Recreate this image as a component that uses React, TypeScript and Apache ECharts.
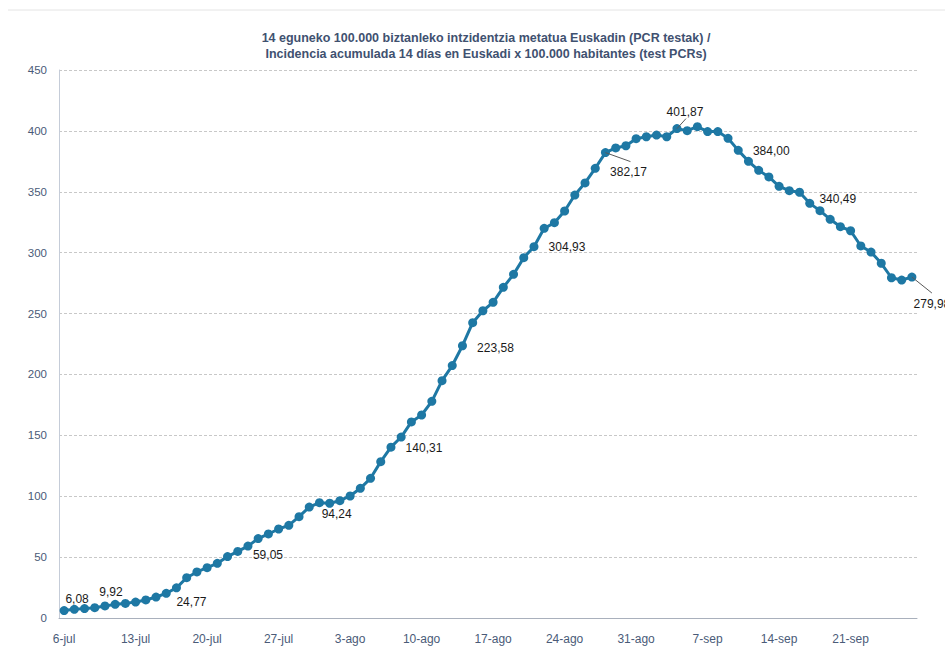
import React, { useEffect, useRef } from "react";
import * as echarts from "echarts";

const categories: string[] = [
  "6-jul", "7-jul", "8-jul", "9-jul", "10-jul", "11-jul", "12-jul", "13-jul", "14-jul", "15-jul",
  "16-jul", "17-jul", "18-jul", "19-jul", "20-jul", "21-jul", "22-jul", "23-jul", "24-jul", "25-jul",
  "26-jul", "27-jul", "28-jul", "29-jul", "30-jul", "31-jul",
  "1-ago", "2-ago", "3-ago", "4-ago", "5-ago", "6-ago", "7-ago", "8-ago", "9-ago", "10-ago",
  "11-ago", "12-ago", "13-ago", "14-ago", "15-ago", "16-ago", "17-ago", "18-ago", "19-ago", "20-ago",
  "21-ago", "22-ago", "23-ago", "24-ago", "25-ago", "26-ago", "27-ago", "28-ago", "29-ago", "30-ago",
  "31-ago",
  "1-sep", "2-sep", "3-sep", "4-sep", "5-sep", "6-sep", "7-sep", "8-sep", "9-sep", "10-sep",
  "11-sep", "12-sep", "13-sep", "14-sep", "15-sep", "16-sep", "17-sep", "18-sep", "19-sep", "20-sep",
  "21-sep", "22-sep", "23-sep", "24-sep", "25-sep", "26-sep", "27-sep",
];

const incidence: number[] = [
  6.08, 7.1, 7.7, 8.5, 9.92, 11.2, 12.0, 13.1, 14.8, 17.2,
  20.3, 24.77, 33.1, 37.8, 41.3, 44.9, 50.4, 54.7, 59.05, 65.2,
  69.0, 73.1, 76.1, 83.2, 91.1, 94.7, 94.24, 96.3, 100.2, 106.5,
  114.7, 128.4, 140.31, 148.6, 161.0, 166.7, 177.9, 194.9, 207.3, 223.58,
  242.5, 252.3, 259.2, 271.5, 282.2, 295.9, 304.93, 320.0, 324.6, 334.2,
  347.3, 357.3, 369.3, 382.17, 386.0, 387.8, 393.6, 395.2, 396.6, 395.2,
  401.87, 400.2, 403.5, 399.4, 399.4, 393.9, 384.0, 375.0, 367.6, 362.2,
  354.5, 350.9, 349.6, 340.49, 334.5, 327.4, 321.3, 318.0, 305.5, 300.5,
  291.3, 279.4, 277.5, 279.98,
];

const labelledPoints: number[] = [0, 4, 11, 18, 26, 32, 39, 46, 53, 60, 66, 73, 83];

const titleLines: string[] = [
  "14 eguneko 100.000 biztanleko intzidentzia metatua Euskadin (PCR testak) /",
  "Incidencia acumulada 14 días en Euskadi x 100.000 habitantes (test PCRs)",
];

const yMin = 0;
const yMax = 450;
const yStep = 50;

// label placement (style): pixel offset of label centre from its point
const labelOffsets: Record<number, [number, number]> = {
  0: [13, -12],
  4: [6, -14],
  11: [15, 14],
  18: [20, 9],
  26: [7, 11],
  32: [33, 1],
  39: [33, 2],
  46: [33, 0],
  53: [23, 19],
  60: [8, -17],
  66: [33, 1],
  73: [28, -4],
  83: [20, 27],
};
// leader line end (style): pixel offset from point
const leaderEnds: Record<number, [number, number]> = {
  53: [25, 9],
  60: [9, -10],
  83: [20, 16],
};

const fmt = (v: number) => v.toFixed(2).replace(".", ",");

export default function App() {
  const ref = useRef<HTMLDivElement>(null);

  useEffect(() => {
    if (!ref.current) return;
    const chart = echarts.init(ref.current, undefined, { renderer: "svg" });

    const labelData = labelledPoints.map((i) => [i, incidence[i]]);

    chart.setOption({
      animation: false,
      backgroundColor: "#ffffff",
      title: {
        text: titleLines.join("\n"),
        left: 481,
        top: 25,
        textAlign: "center",
        textStyle: {
          fontFamily: "'Liberation Sans', sans-serif",
          fontWeight: "bold",
          fontSize: 12.5,
          lineHeight: 16,
          color: "#3F5170",
        },
      },
      graphic: [
        {
          type: "line",
          shape: { x1: 8, y1: 10, x2: 945, y2: 10 },
          style: { stroke: "#e4e4e4", lineWidth: 1 },
        },
      ],
      grid: { left: 59, right: 28, top: 70, bottom: 32, containLabel: false },
      xAxis: {
        type: "category",
        data: categories,
        boundaryGap: true,
        axisLine: { show: true, lineStyle: { color: "#A9B0BC", width: 1 } },
        axisTick: { show: false },
        axisLabel: {
          interval: 6,
          margin: 15,
          color: "#4A5B78",
          fontFamily: "'Liberation Sans', sans-serif",
          fontSize: 12,
        },
        splitLine: { show: false },
      },
      yAxis: {
        type: "value",
        min: yMin,
        max: yMax,
        interval: yStep,
        axisLine: { show: true, lineStyle: { color: "#C5CCD8", width: 1 } },
        axisTick: { show: false },
        axisLabel: {
          margin: 12,
          color: "#4A5B78",
          fontFamily: "'Liberation Sans', sans-serif",
          fontSize: 11.5,
        },
        splitLine: {
          show: true,
          lineStyle: { color: "#C8C8C8", type: [3, 2], width: 1 },
        },
      },
      series: [
        {
          type: "line",
          data: incidence,
          symbol: "circle",
          symbolSize: 9,
          showAllSymbol: true,
          lineStyle: { color: "#1E78A4", width: 3 },
          itemStyle: { color: "#1E78A4" },
          z: 3,
        },
        {
          type: "custom",
          data: labelData,
          z: 4,
          silent: true,
          clip: false,
          renderItem: (params: any, api: any) => {
            const idx = api.value(0);
            const val = api.value(1);
            const p = api.coord([idx, val]);
            const o = labelOffsets[idx] || [0, -12];
            const children: any[] = [];
            const e = leaderEnds[idx];
            if (e) {
              children.push({
                type: "line",
                shape: { x1: p[0], y1: p[1], x2: p[0] + e[0], y2: p[1] + e[1] },
                style: { stroke: "#595959", lineWidth: 1 },
              });
            }
            children.push({
              type: "text",
              x: p[0] + o[0],
              y: p[1] + o[1],
              style: {
                text: fmt(val),
                fill: "#1a1a1a",
                font: "12px 'Liberation Sans', sans-serif",
                align: "center",
                verticalAlign: "middle",
              },
            });
            return { type: "group", children };
          },
        },
      ],
    });

    return () => chart.dispose();
  }, []);

  return (
    <div
      ref={ref}
      style={{ position: "fixed", left: 0, top: 0, width: 945, height: 650 }}
    />
  );
}
